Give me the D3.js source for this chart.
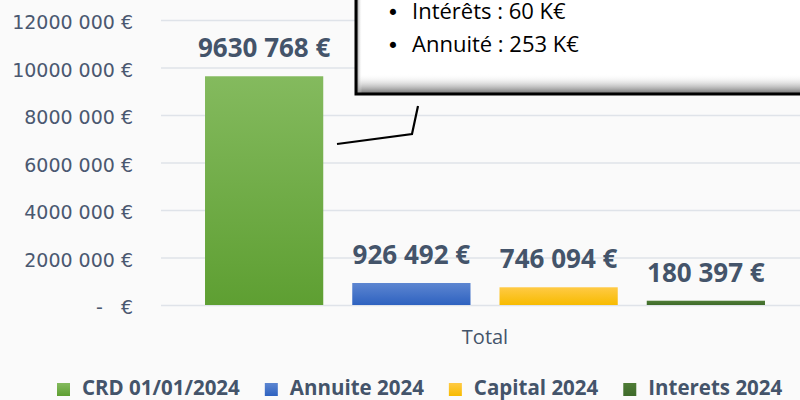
<!DOCTYPE html>
<html>
<head>
<meta charset="utf-8">
<script src="https://cdn.jsdelivr.net/npm/d3@7"></script>
<style>
  body { margin: 0; background: #fafafa; }
  svg { display: block; }
</style>
</head>
<body>
<div id="chart"></div>
<script>
var w = 800;
var h = 400;

// data
var categories = ["Total"];
var seriesNames = ["CRD 01/01/2024", "Annuite 2024", "Capital 2024", "Interets 2024"];
var seriesValues = [9630768, 926492, 746094, 180397];
var yTicks = [0, 2000000, 4000000, 6000000, 8000000, 10000000, 12000000];
var calloutLines = ["Intérêts : 60 K€", "Annuité : 253 K€"];

// colours [top, bottom] for each series
var colors = [["#84ba5e", "#5e9f32"], ["#5d86d1", "#2e62c0"], ["#ffca45", "#f7bb00"], ["#4f7c36", "#3e6a2a"]];

var plotLeft = 161, plotRight = 809, plotTop = 20, plotBottom = 305;
var textColor = "#44546a";

var svg = d3.select("#chart")
  .append("svg")
  .attr("width", w)
  .attr("height", h);

svg.append("rect").attr("width", w).attr("height", h).attr("fill", "#fafafa");

var defs = svg.append("defs");
colors.forEach(function(c, i) {
  var g = defs.append("linearGradient")
    .attr("id", "grad" + i)
    .attr("x1", 0).attr("y1", 0).attr("x2", 0).attr("y2", 1);
  g.append("stop").attr("offset", "0%").attr("stop-color", c[0]);
  g.append("stop").attr("offset", "100%").attr("stop-color", c[1]);
});

// scales
var yScale = d3.scaleLinear()
  .domain([0, 12000000])
  .range([plotBottom, plotTop]);

var x0 = d3.scaleBand()
  .domain(categories)
  .range([plotLeft, plotRight])
  .paddingOuter(0.0786)
  .paddingInner(0);

var x1 = d3.scaleBand()
  .domain(seriesNames)
  .range([0, x0.bandwidth()])
  .paddingInner(0.197)
  .paddingOuter(0);

// y axis with gridlines
var fmt = function(d) {
  if (d === 0) return "-   €";
  var s = String(d);
  return s.slice(0, s.length - 3) + " " + s.slice(-3) + " €";
};

var yAxis = svg.append("g")
  .attr("transform", "translate(" + plotLeft + ",0)")
  .call(d3.axisLeft(yScale)
    .tickValues(yTicks)
    .tickSize(-(plotRight - plotLeft))
    .tickPadding(28)
    .tickFormat(fmt));

yAxis.select(".domain").remove();
yAxis.selectAll(".tick line")
  .attr("stroke", "#dfe3e9")
  .attr("stroke-width", 1.6);
yAxis.selectAll(".tick text")
  .attr("fill", "#4a5870")
  .attr("font-family", "DejaVu Sans")
  .attr("font-size", "19px")
  .attr("dy", "0.45em")
  .style("white-space", "pre");

// bars
var group = svg.append("g")
  .selectAll("g")
  .data(categories)
  .enter()
  .append("g")
  .attr("transform", d => "translate(" + x0(d) + ",0)");

group.selectAll("rect")
  .data(seriesValues)
  .enter()
  .append("rect")
  .attr("x", (d, i) => x1(seriesNames[i]))
  .attr("y", d => yScale(d))
  .attr("width", x1.bandwidth())
  .attr("height", d => plotBottom - yScale(d))
  .attr("fill", (d, i) => "url(#grad" + i + ")");

// value labels
group.selectAll("text.val")
  .data(seriesValues)
  .enter()
  .append("text")
  .attr("class", "val")
  .attr("x", (d, i) => x1(seriesNames[i]) + x1.bandwidth() / 2)
  .attr("y", d => yScale(d) - 19)
  .attr("text-anchor", "middle")
  .attr("font-family", "Open Sans")
  .attr("font-weight", "bold")
  .attr("font-size", "26px")
  .attr("fill", textColor)
  .text(d => d3.format(",")(d).replace(/,/g, " ").replace(/^(\d) (\d{3}) /, "$1$2 ") + " €");

// category label
svg.append("text")
  .attr("x", x0("Total") + x0.bandwidth() / 2)
  .attr("y", 344)
  .attr("text-anchor", "middle")
  .attr("font-family", "Open Sans")
  .attr("font-size", "20px")
  .attr("fill", textColor)
  .text(categories[0]);

// legend
var legend = svg.append("g");
var lx = 57;
seriesNames.forEach(function(name, i) {
  legend.append("rect")
    .attr("x", lx)
    .attr("y", 383)
    .attr("width", 13)
    .attr("height", 13)
    .attr("fill", "url(#grad" + i + ")");
  var t = legend.append("text")
    .attr("x", lx + 25)
    .attr("y", 395)
    .attr("font-family", "Open Sans")
    .attr("font-weight", "bold")
    .attr("font-size", "20.5px")
    .attr("fill", textColor)
    .text(name);
  lx = lx + 25 + t.node().getComputedTextLength() + 25;
});

// callout box
var shadowB = defs.append("linearGradient")
  .attr("id", "shadowB").attr("x1", 0).attr("y1", 0).attr("x2", 0).attr("y2", 1);
shadowB.append("stop").attr("offset", "0%").attr("stop-color", "#ffffff").attr("stop-opacity", 0);
shadowB.append("stop").attr("offset", "100%").attr("stop-color", "#6b6b6b").attr("stop-opacity", 1);
var shadowL = defs.append("linearGradient")
  .attr("id", "shadowL").attr("x1", 0).attr("y1", 0).attr("x2", 1).attr("y2", 0);
shadowL.append("stop").attr("offset", "0%").attr("stop-color", "#6b6b6b").attr("stop-opacity", 1);
shadowL.append("stop").attr("offset", "100%").attr("stop-color", "#ffffff").attr("stop-opacity", 0);

var box = svg.append("g");
box.append("rect")
  .attr("x", 356).attr("y", -60)
  .attr("width", 500).attr("height", 154)
  .attr("fill", "#ffffff");
box.append("rect")
  .attr("x", 356).attr("y", 74)
  .attr("width", 500).attr("height", 20)
  .attr("fill", "url(#shadowB)");
box.append("rect")
  .attr("x", 356).attr("y", -60)
  .attr("width", 6).attr("height", 154)
  .attr("fill", "url(#shadowL)");
box.append("rect")
  .attr("x", 356).attr("y", -60)
  .attr("width", 500).attr("height", 154)
  .attr("fill", "none")
  .attr("stroke", "#000")
  .attr("stroke-width", 3);

calloutLines.forEach(function(line, i) {
  box.append("text")
    .attr("x", 393)
    .attr("y", 20 + i * 33)
    .attr("text-anchor", "middle")
    .attr("font-family", "DejaVu Sans")
    .attr("font-size", "21px")
    .attr("fill", "#000")
    .text("•");
  box.append("text")
    .attr("x", 412)
    .attr("y", 19 + i * 33)
    .attr("font-family", "Open Sans")
    .attr("font-size", "22px")
    .attr("fill", "#000")
    .text(line);
});

// leader line
svg.append("path")
  .attr("d", d3.line()([[418, 106], [412, 134], [337, 144]]))
  .attr("fill", "none")
  .attr("stroke", "#000")
  .attr("stroke-width", 2.2);
</script>
</body>
</html>
